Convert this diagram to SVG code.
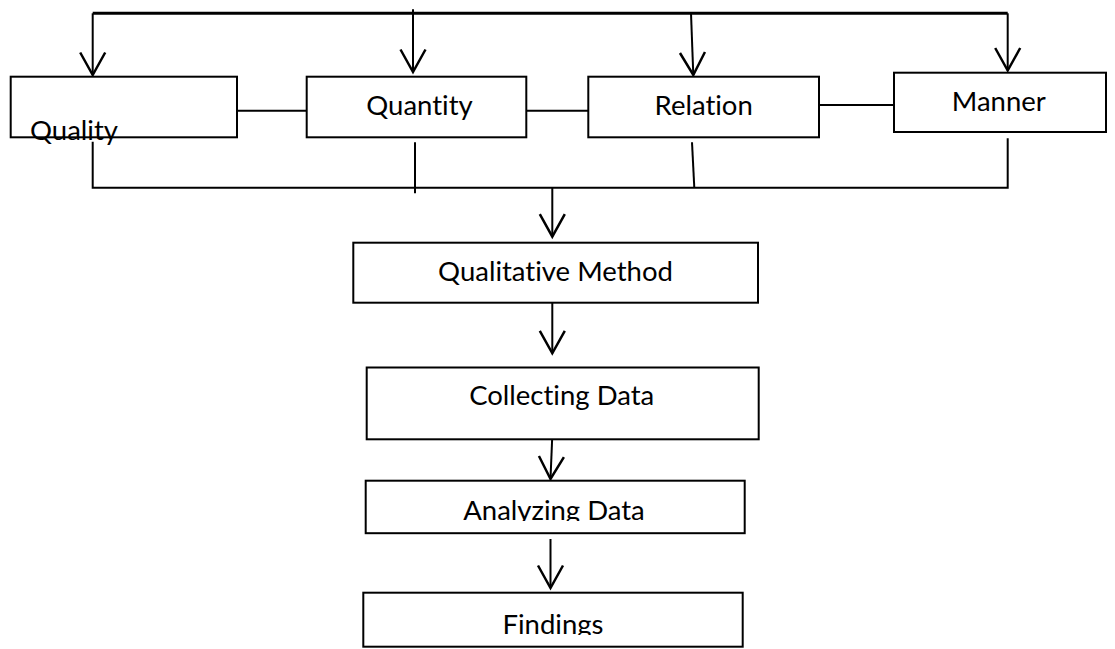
<svg xmlns="http://www.w3.org/2000/svg" width="1115" height="649" viewBox="0 0 1115 649">
<style>
.box{fill:#fff;stroke:#000;stroke-width:2}
.t{font-family:Lato,"Open Sans","Liberation Sans",sans-serif;font-size:27.5px;fill:#000;font-variant-ligatures:none;font-feature-settings:"liga" 0,"clig" 0}
.c{text-anchor:middle}
.ln{fill:none;stroke:#000;stroke-width:2}
.thick{fill:none;stroke:#000;stroke-width:3}
.ar{fill:none;stroke:#000;stroke-width:2;marker-end:url(#v)}
</style>
<defs>
<marker id="v" markerUnits="userSpaceOnUse" orient="auto" refX="0" refY="0" markerWidth="30" markerHeight="30" viewBox="-20 -12 22 24" overflow="visible">
<path d="M-18,-10 L0,0 L-18,10" fill="none" stroke="#000" stroke-width="2"/>
</marker>
<clipPath id="clipA"><rect x="360" y="470" width="400" height="51"/></clipPath>
<clipPath id="clipF"><rect x="360" y="590" width="400" height="45"/></clipPath>
</defs>
<g id="connectors">
<path class="thick" d="M92.7,13.3 H1007.7"/>
<path class="ar" d="M92.7,13.3 V75"/>
<path class="ar" d="M1007.7,13.3 V70.5"/>
<path class="ar" d="M413,9.3 V72"/>
<path class="ar" d="M691,13.3 L693.3,75"/>
<path class="ln" d="M237,110.7 H306.7"/>
<path class="ln" d="M526.3,110.7 H588.3"/>
<path class="ln" d="M819,105 H894"/>
<path class="ln" d="M92.7,141.7 V187.7 H1007.7 V138.3"/>
<path class="ln" d="M415,142.3 V193.3"/>
<path class="ln" d="M692,142.3 L694.3,187.7"/>
<path class="ar" d="M552.3,187.7 V236.7"/>
<path class="ar" d="M552.3,302.7 V353.3"/>
<path class="ar" d="M552.3,435 L550.5,479"/>
<path class="ar" d="M550.5,539 V588"/>
</g>
<g id="quality">
<rect class="box" x="10.7" y="76.7" width="226.3" height="60.6"/>
<text class="t" x="30" y="140">Quality</text>
</g>
<g id="quantity">
<rect class="box" x="306.7" y="76.7" width="219.6" height="60.6"/>
<text class="t c" x="419.5" y="115">Quantity</text>
</g>
<g id="relation">
<rect class="box" x="588.3" y="76.7" width="230.7" height="60.6"/>
<text class="t c" x="703.7" y="115">Relation</text>
</g>
<g id="manner">
<rect class="box" x="894" y="72.7" width="212" height="59.3"/>
<text class="t c" x="998.8" y="110.7">Manner</text>
</g>
<g id="qualitative-method">
<rect class="box" x="353.3" y="242.7" width="404.7" height="60"/>
<text class="t c" x="555.5" y="281">Qualitative Method</text>
</g>
<g id="collecting-data">
<rect class="box" x="366.7" y="367.5" width="392" height="71.8"/>
<text class="t c" x="561.7" y="405">Collecting Data</text>
</g>
<g id="analyzing-data">
<rect class="box" x="365.7" y="480.7" width="379" height="52.5"/>
<text class="t c" x="554" y="520" clip-path="url(#clipA)">Analyzing Data</text>
</g>
<g id="findings">
<rect class="box" x="363.3" y="592.7" width="379.4" height="54"/>
<text class="t c" x="553" y="634" clip-path="url(#clipF)">Findings</text>
</g>
</svg>
